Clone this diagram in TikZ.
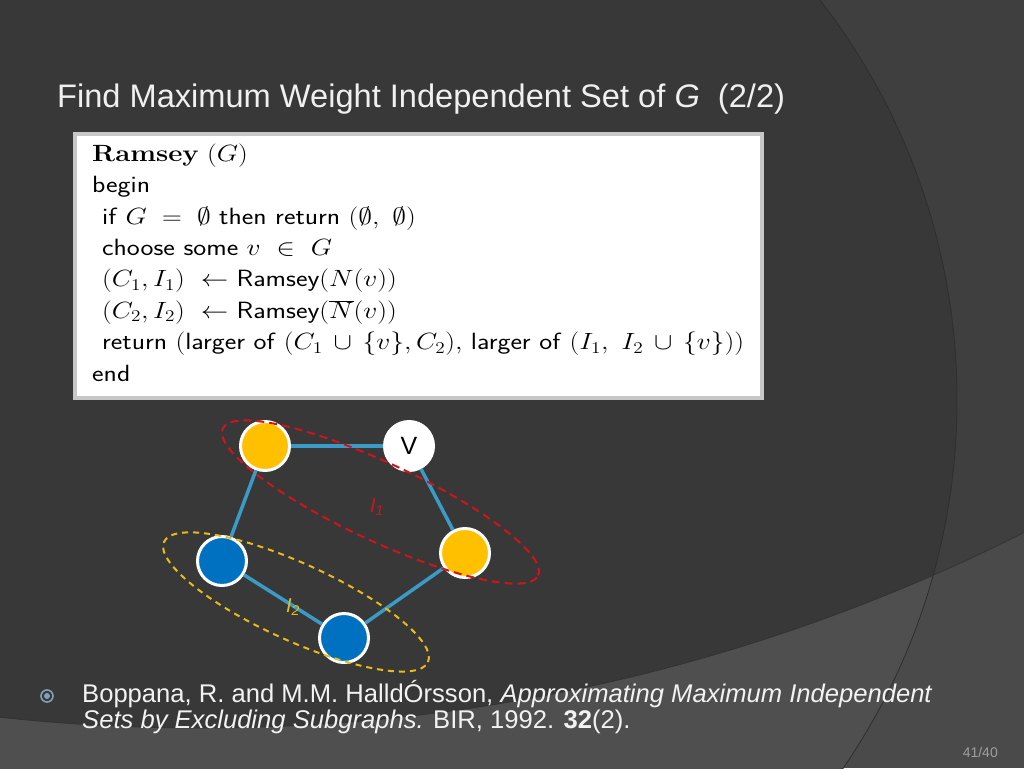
\RequirePackage{fix-cm}
\documentclass[tikz,border=0pt]{standalone}
\usepackage{fontspec}
\usepackage{tikz}
\usetikzlibrary{positioning}

\newfontfamily\slidefont{Liberation Sans}

\definecolor{bgmain}{HTML}{383838}
\definecolor{bgright}{HTML}{3F3F3F}
\definecolor{bandleft}{HTML}{4F4F4F}
\definecolor{bandright}{HTML}{4A4A4A}
\definecolor{edgeblue}{HTML}{3A9CC6}
\definecolor{setyellow}{HTML}{FFC000}
\definecolor{setblue}{HTML}{0070C0}
\definecolor{setred}{HTML}{D0141E}
\definecolor{ringyellow}{HTML}{E8BC14}
\definecolor{bulletc}{HTML}{7FA2B4}

\tikzset{
	vtx/.style={on grid, circle, draw=white, line width=3pt, minimum size=49pt, inner sep=0pt},
	yvtx/.style={vtx, fill=setyellow},
	bvtx/.style={vtx, fill=setblue},
	wvtx/.style={vtx, fill=white, text=black, font=\slidefont\fontsize{25}{25}\selectfont},
	edge/.style={edgeblue, line width=3.5pt},
	redset/.style={setred, line width=2pt, dash pattern=on 8pt off 5pt},
	yelset/.style={ringyellow, line width=2pt, dash pattern=on 6pt off 5pt},
	setlbl/.style={inner sep=0pt, font=\slidefont\itshape\fontsize{20}{20}\selectfont},
	slidetitle/.style={anchor=base west, inner sep=0pt, text=white!94!black, font=\slidefont\fontsize{32.6}{32.6}\selectfont},
	algobox/.style={draw=black!22, line width=4pt, fill=white, minimum width=687pt, minimum height=264pt},
	algotext/.style={anchor=base west, inner sep=0pt, align=left, text=black, font=\fontsize{23.5}{31.4}\selectfont},
	reftext/.style={anchor=base west, inner sep=0pt, align=left, text=white!95!black, font=\slidefont\fontsize{25.6}{25.6}\selectfont},
	refdot/.style={circle, draw=bulletc, line width=1.6pt, minimum size=12pt, inner sep=0pt,
		path picture={\fill[bulletc] (path picture bounding box.center) circle (3pt);}},
	pagenum/.style={anchor=base east, inner sep=0pt, text=black!38, font=\slidefont\fontsize{14}{14}\selectfont}
}

\begin{document}
\begin{tikzpicture}[x=1pt, y=-1pt]
	%% BACKGROUND
	\useasboundingbox (0,0) rectangle (1024,768);
	\clip (0,0) rectangle (1024,768);
	\coordinate (c_arc) at (305,400);
	\coordinate (c_band) at (200,-1102);
	\fill[bandright] (0,0) rectangle (1024,768);
	\fill[bandleft] (c_arc) circle [radius=652pt];
	\begin{scope}
		\clip (c_band) circle [radius=1830pt];
		\fill[bgright] (0,0) rectangle (1024,768);
		\fill[bgmain] (c_arc) circle [radius=652pt];
	\end{scope}
	\draw[black!82, line width=0.8pt] (c_arc) circle [radius=652pt];
	\draw[black!80, line width=0.8pt] (c_band) circle [radius=1830pt];

	%% TITLE
	\node[slidetitle](title) at (57,107){Find Maximum Weight Independent Set of {\itshape G}\ \ (2/2)};

	%% ALGORITHM
	\node[algobox](algobox) at (418.5,266){};
	\begin{scope}[shift={(92,381)}, xscale=1.17, transform shape]
		\node[algotext](algo) at (0,0){%
			\textbf{Ramsey} $(G)$\\
			\textsf{begin}\\
			\hspace{8.5pt}\textsf{if} $G\;=\;\emptyset$ \textsf{then return} $(\emptyset,\ \emptyset)$\\
			\hspace{8.5pt}\textsf{choose some} $v\ \in\ G$\\
			\hspace{8.5pt}$(C_1, I_1)\ \leftarrow$ \textsf{Ramsey}$(N(v))$\\
			\hspace{8.5pt}$(C_2, I_2)\ \leftarrow$ \textsf{Ramsey}$(\overline{N}(v))$\\
			\hspace{8.5pt}\textsf{return} $($\textsf{larger of} $(C_1\,\cup\,\{v\}, C_2),$ \textsf{larger of} $(I_1,\ I_2\,\cup\,\{v\}))$\\
			\textsf{end}};
	\end{scope}

	%% GRAPH
	\node[yvtx](y_top) at (265,446){};
	\node[wvtx, right=144pt of y_top](v){V};
	\node[yvtx, below right=107pt and 56pt of v](y_right){};
	\node[bvtx, below left=115pt and 43pt of y_top](b_left){};
	\node[bvtx, below right=77pt and 122pt of b_left](b_bottom){};

	\draw[edge] (y_top) -- (v);
	\draw[edge] (v) -- (y_right);
	\draw[edge] (y_right) -- (b_bottom);
	\draw[edge] (b_bottom) -- (b_left);
	\draw[edge] (b_left) -- (y_top);

	% independent sets
	\coordinate (c_i1) at (380.5,502);
	\coordinate (c_i2) at (296,602);
	\draw[redset, rotate around={-25:(c_i1)}] (c_i1) ellipse [x radius=174pt, y radius=39pt];
	\draw[yelset, rotate around={-24.5:(c_i2)}] (c_i2) ellipse [x radius=145pt, y radius=38.5pt];
	\node[setlbl, text=setred] (lab_i1) at (377,507){I\textsubscript{1}};
	\node[setlbl, text=ringyellow] (lab_i2) at (293,607){I\textsubscript{2}};

	%% REFERENCE
	\node[refdot](dot) at (47,696){};
	\node[reftext](ref) at (82,728.3){Boppana, R. and M.M. HalldÓrsson, \textit{Approximating Maximum Independent}\\
		\textit{Sets by Excluding Subgraphs.} BIR, 1992. \textbf{32}(2).};
	\node[pagenum](pgno) at (998,757){41/40};
\end{tikzpicture}
\end{document}
